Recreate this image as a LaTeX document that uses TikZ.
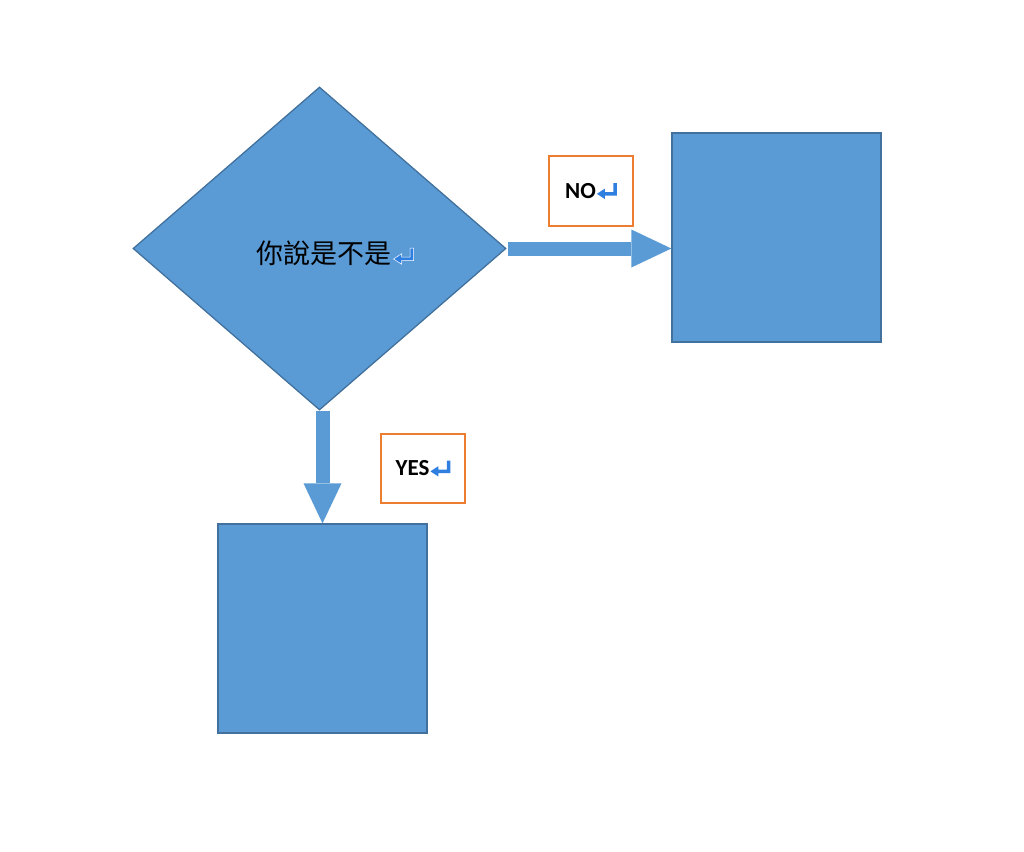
\documentclass[tikz,border=0pt]{standalone}
\usepackage{fontspec}
\setmainfont{Carlito}
\newfontfamily\cjkfont{Noto Sans CJK TC}
\usetikzlibrary{shapes.geometric,arrows.meta}
\definecolor{shapefill}{HTML}{5B9BD5}
\definecolor{shapeline}{HTML}{41719C}
\definecolor{labelline}{HTML}{ED7D31}
\definecolor{retblue}{HTML}{2F7FE0}
\newcommand{\retmark}[1][none]{\tikz[baseline=0pt,x=1pt,y=1pt]{\filldraw[fill=retblue,draw=#1,line width=0.5pt,line join=miter] (16.5,15) -- (20,15) -- (20,2.5) -- (8,2.5) -- (8,-1) -- (0,4.2) -- (8,9.4) -- (8,6) -- (16.5,6) -- cycle;}}
\tikzset{
  flowshape/.style={fill=shapefill, draw=shapeline, line width=1.3pt, inner sep=0pt},
  flowbox/.style={flowshape, rectangle, minimum width=209pt, minimum height=209pt},
  labelbox/.style={draw=labelline, line width=1.4pt, fill=white, minimum width=84pt, minimum height=70pt, inner sep=0pt, font=\bfseries\fontsize{23}{23}\selectfont},
  blockarrow/.style={draw=shapefill, line width=14pt, -{Triangle[length=40pt,width=38pt,line width=0pt]}},
}
\begin{document}
\begin{tikzpicture}[x=1pt,y=-1pt]
\useasboundingbox (0,0) rectangle (1024,851);
\node[flowshape, diamond, minimum width=373pt, minimum height=323pt] (dec) at (319.5,248.5) {};
\node[font=\cjkfont\fontsize{27}{27}\selectfont, inner sep=0pt] (dectext) at (335,253) {你說是不是\kern2pt\retmark[white]};
\node[flowbox] (right) at (776.5,237.5) {};
\node[flowbox] (bottom) at (322.5,628.5) {};
\draw[blockarrow] ([xshift=1pt]dec.east) -- (dec.east -| right.west);
\draw[blockarrow] (bottom.north |- dec.south) -- (bottom.north);
\node[labelbox] (no) at (591,191) {NO\kern1pt\retmark};
\node[labelbox, minimum height=69pt] (yes) at (423,468.5) {YES\kern1pt\retmark};
\end{tikzpicture}
\end{document}
